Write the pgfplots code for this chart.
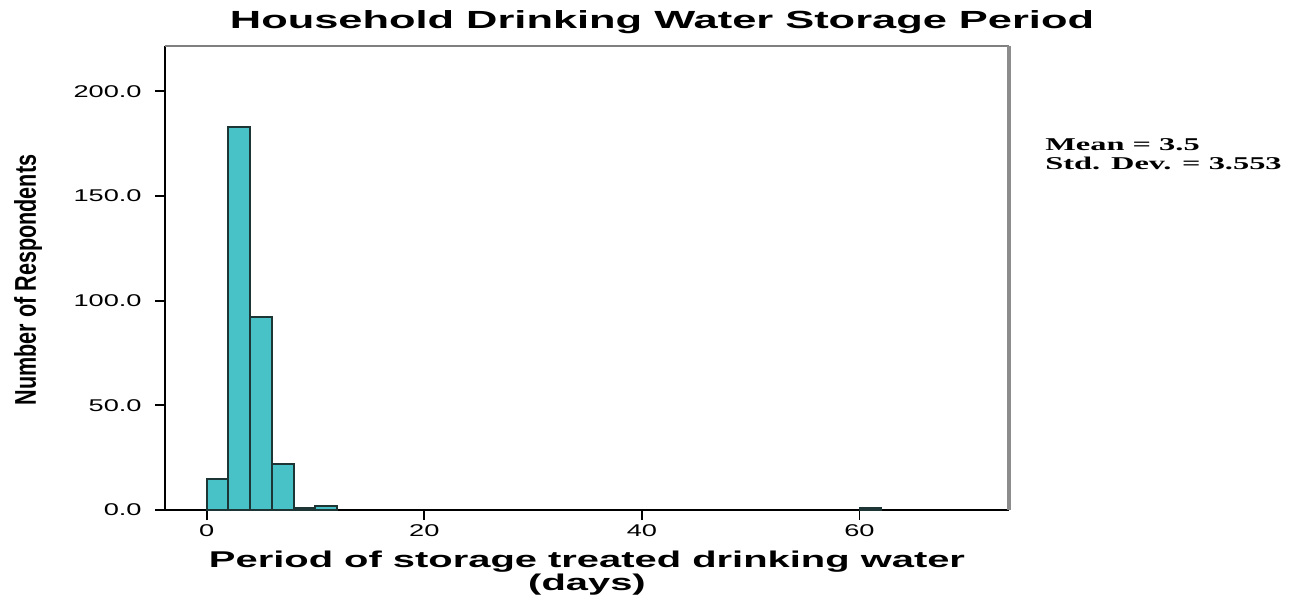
\documentclass[border=0pt]{standalone}
\usepackage{fontspec}
\usepackage{pgfplots}
\pgfplotsset{compat=1.18}
\setmainfont{Liberation Sans}
\newfontfamily\titlefont[FakeStretch=1.75]{Liberation Sans Bold}
\newfontfamily\ticksfont[FakeStretch=1.6]{Liberation Sans}
\newfontfamily\ylabfont[FakeStretch=0.72]{Liberation Sans Bold}
\newfontfamily\statfont[FakeStretch=1.8]{Liberation Serif Bold}
\definecolor{barfill}{HTML}{48C1C7}
\definecolor{baredge}{HTML}{1E3536}
\begin{document}
\begin{tikzpicture}
\useasboundingbox (-82.5pt,-43pt) rectangle (569pt,255pt);
\begin{axis}[
  scale only axis,
  width=422pt, height=232pt,
  xmin=-3.83, xmax=73.74,
  ymin=0, ymax=221.6,
  axis lines=left,
  axis line style={-, black, line width=0.9pt},
  tick align=outside,
  major tick length=5pt,
  tick style={black, line width=0.9pt},
  xtick={0,20,40,60},
  ytick={0,50,100,150,200},
  yticklabel={\pgfmathprintnumber[fixed,fixed zerofill,precision=1]{\tick}},
  /pgf/number format/assume math mode=true,
  ticklabel style={font=\ticksfont\fontsize{8.5pt}{10pt}\selectfont},
  yticklabel style={anchor=east, inner sep=0pt, xshift=-6.5pt},
  xticklabel style={anchor=north, inner sep=0pt, yshift=-2pt},
  clip=false,
]
\addplot[ybar interval, fill=barfill, draw=baredge, line width=1pt]
  coordinates {(0,15) (2,183) (4,92) (6,22) (8,1) (10,2) (12,2)};
\addplot[ybar interval, fill=barfill, draw=baredge, line width=1pt]
  coordinates {(60,1) (62,1)};
\draw[gray, line width=0.9pt] (rel axis cs:0,1) -- (rel axis cs:1,1);
\draw[gray!90, line width=2pt] (rel axis cs:1,1) -- (rel axis cs:1,0);
\end{axis}
\node[font=\titlefont\fontsize{12.4pt}{14pt}\selectfont] at (248.5pt,244pt) {Household Drinking Water Storage Period};
\node[rotate=90, font=\ylabfont\fontsize{15pt}{17pt}\selectfont] at (-68.5pt,115pt) {Number of Respondents};
\node[align=center, inner sep=0pt, font=\titlefont\fontsize{11.4pt}{9.5pt}\selectfont] at (211pt,-31.5pt) {Period of storage treated drinking water\\(days)};
\node[anchor=west, font=\statfont\fontsize{9pt}{10pt}\selectfont, inner sep=0pt] at (440pt,182.5pt) {Mean = 3.5};
\node[anchor=west, font=\statfont\fontsize{9pt}{10pt}\selectfont, inner sep=0pt] at (440pt,173.5pt) {Std. Dev. = 3.553};
\end{tikzpicture}
\end{document}
